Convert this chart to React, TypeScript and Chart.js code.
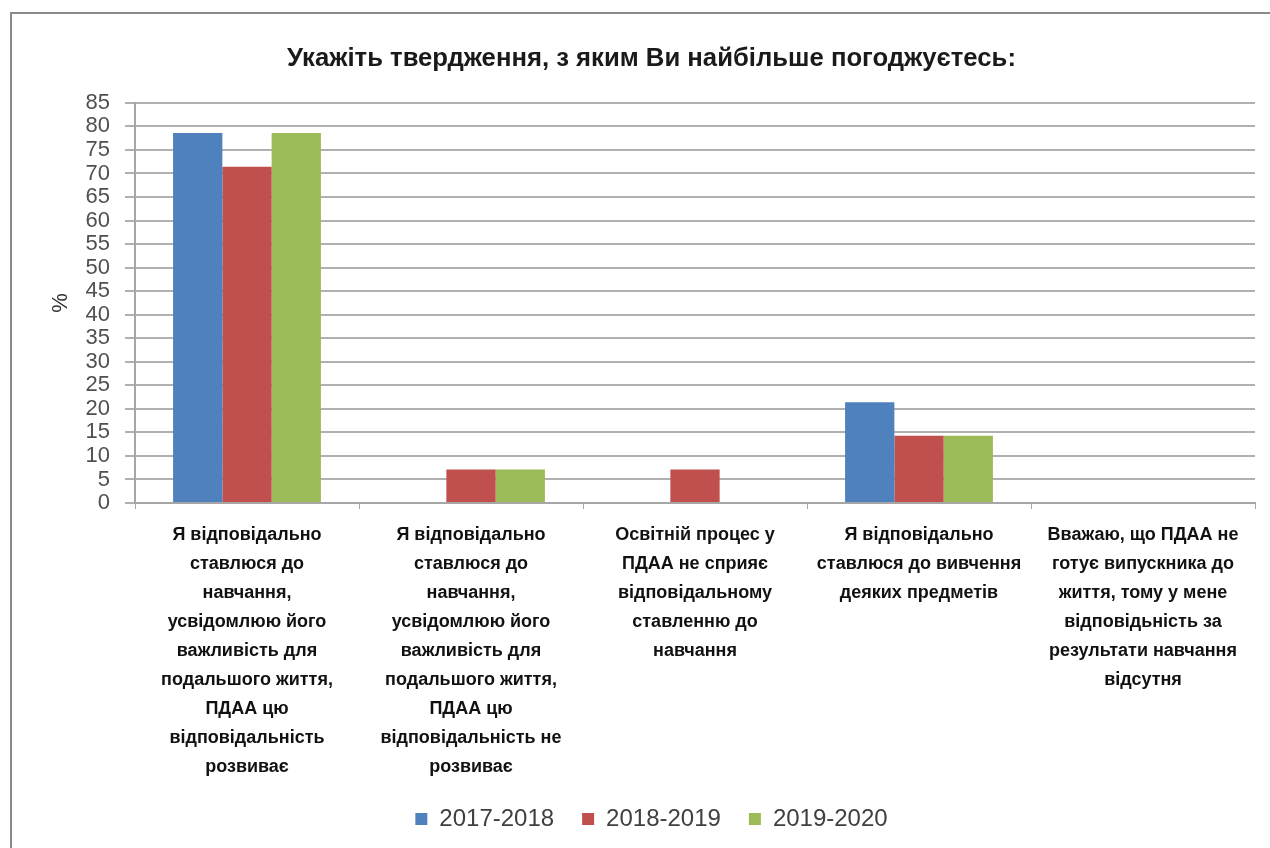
import React, { useEffect, useRef } from "react";
import { Chart, registerables } from "chart.js";

Chart.register(...registerables);

const TITLE = "Укажіть твердження, з яким Ви найбільше погоджуєтесь:";
const Y_TITLE = "%";
const CATEGORIES: string[][] = [
  ["Я відповідально", "ставлюся до", "навчання,", "усвідомлюю його", "важливість для", "подальшого життя,", "ПДАА цю", "відповідальність", "розвиває"],
  ["Я відповідально", "ставлюся до", "навчання,", "усвідомлюю його", "важливість для", "подальшого життя,", "ПДАА цю", "відповідальність не", "розвиває"],
  ["Освітній процес у", "ПДАА не сприяє", "відповідальному", "ставленню до", "навчання"],
  ["Я відповідально", "ставлюся до вивчення", "деяких предметів"],
  ["Вважаю, що ПДАА не", "готує випускника до", "життя, тому у мене", "відповідьність за", "результати навчання", "відсутня"],
];
const SERIES_NAMES = ["2017-2018", "2018-2019", "2019-2020"];
const S2017 = [78.6, 0, 0, 21.4, 0];
const S2018 = [71.4, 7.1, 7.1, 14.3, 0];
const S2019 = [78.6, 7.1, 0, 14.3, 0];
const COLORS = ["#4F81BD", "#C0504D", "#9BBB59"];
const Y_MIN = 0;
const Y_MAX = 85;
const Y_STEP = 5;

const FONT = "'Liberation Sans', Arial, sans-serif";

export default function App() {
  const ref = useRef<HTMLCanvasElement | null>(null);
  useEffect(() => {
    document.body.style.overflow = "hidden";
    const ctx = ref.current!;
    const chart = new Chart(ctx, {
      type: "bar",
      data: {
        labels: CATEGORIES,
        datasets: [S2017, S2018, S2019].map((d, i) => ({
          label: SERIES_NAMES[i],
          data: d,
          backgroundColor: COLORS[i],
          borderWidth: 0,
          categoryPercentage: 0.66,
          barPercentage: 1,
        })),
      },
      options: {
        animation: false,
        responsive: false,
        maintainAspectRatio: false,
        layout: { padding: { left: 36, right: 33, top: 0, bottom: 0 } },
        plugins: {
          tooltip: { enabled: false },
          title: {
            display: true,
            text: TITLE,
            color: "#1a1a1a",
            font: { family: FONT, size: 25.7, weight: "bold", lineHeight: 1.2 },
            padding: { top: 29, bottom: 29 },
          },
          legend: {
            position: "bottom",
            labels: {
              boxWidth: 12,
              boxHeight: 12,
              padding: 28,
              color: "#404040",
              font: { family: FONT, size: 24 },
            },
          },
        },
        scales: {
          x: {
            offset: true,
            grid: {
              offset: true,
              drawOnChartArea: false,
              drawTicks: true,
              tickLength: 6,
              color: "#a6a6a6",
            },
            border: { color: "#a6a6a6", width: 2 },
            ticks: {
              padding: 12,
              color: "#111",
              maxRotation: 0,
              autoSkip: false,
              font: { family: FONT, size: 18, weight: "bold", lineHeight: 1.61 },
            },
            afterFit: (s: any) => {
              s.height = 276;
            },
          },
          y: {
            min: Y_MIN,
            max: Y_MAX,
            ticks: {
              stepSize: Y_STEP,
              autoSkip: false,
              padding: 15,
              color: "#505050",
              font: { family: FONT, size: 22 },
            },
            grid: {
              color: "#b0b0b0",
              lineWidth: 2,
              tickLength: 10,
            },
            border: { color: "#a6a6a6", width: 2 },
            title: {
              display: true,
              text: Y_TITLE,
              color: "#333",
              font: { family: FONT, size: 22, lineHeight: 1.2 },
              padding: 0,
            },
            afterFit: (s: any) => {
              s.width = 87;
            },
          },
        },
      },
    });
    return () => chart.destroy();
  }, []);
  return (
    <div
      style={{
        position: "fixed",
        left: 10,
        top: 12,
        border: "2px solid #8a8a8a",
        background: "#fff",
        width: 1276,
        height: 860,
      }}
    >
      <canvas ref={ref} width={1276} height={827} style={{ display: "block", width: 1276, height: 827 }} />
    </div>
  );
}
